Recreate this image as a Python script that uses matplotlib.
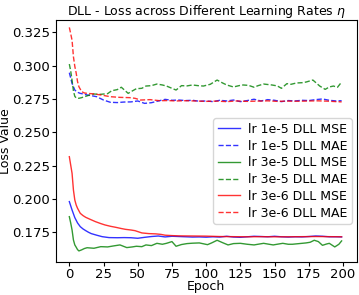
import matplotlib
matplotlib.use("Agg")
import matplotlib.pyplot as plt

ep_blue_mse = [0, 2, 4, 6, 8, 10, 12, 14, 16, 20, 24, 29, 35, 40, 45, 50, 55, 60, 65, 70, 75, 80, 85, 90,
               95, 100, 105, 110, 115, 120, 125, 130, 135, 140, 145, 150, 155, 160, 165, 170, 175, 180,
               185, 190, 195, 199]
blue_mse = [0.1980, 0.1917, 0.1860, 0.1820, 0.1792, 0.1775, 0.1762, 0.1750, 0.1740, 0.1728, 0.1717, 0.1710,
            0.1709, 0.1710, 0.1709, 0.1705, 0.1712, 0.1718, 0.1722, 0.1715, 0.1720, 0.1718, 0.1716, 0.1714,
            0.1715, 0.1713, 0.1716, 0.1714, 0.1720, 0.1714, 0.1712, 0.1716, 0.1720, 0.1718, 0.1716, 0.1720,
            0.1716, 0.1714, 0.1716, 0.1715, 0.1718, 0.1722, 0.1720, 0.1716, 0.1716, 0.1715]

ep_blue_mae = [0, 2, 4, 6, 8, 10, 13, 16, 20, 25, 30, 35, 40, 45, 50, 55, 60, 65, 70, 75, 80, 85, 90, 95,
               100, 105, 110, 115, 120, 125, 130, 135, 140, 145, 150, 155, 160, 165, 170, 175, 180, 185,
               190, 195, 199]
blue_mae = [0.2947, 0.2867, 0.2817, 0.2800, 0.2792, 0.2788, 0.2780, 0.2775, 0.2767, 0.2742, 0.2725, 0.2723,
            0.2727, 0.2728, 0.2735, 0.2717, 0.2722, 0.2735, 0.2747, 0.2740, 0.2742, 0.2738, 0.2740, 0.2733,
            0.2735, 0.2730, 0.2740, 0.2735, 0.2742, 0.2730, 0.2738, 0.2748, 0.2735, 0.2745, 0.2740, 0.2730,
            0.2738, 0.2735, 0.2740, 0.2738, 0.2745, 0.2750, 0.2740, 0.2735, 0.2737]

ep_green_mse = [0, 1, 2, 3, 4, 5, 6, 7, 9, 11, 13, 18, 23, 28, 32, 37, 42, 46, 49, 53, 56, 60, 64, 68, 71,
                75, 78, 82, 86, 90, 95, 101, 104, 108, 112, 116, 120, 125, 130, 135, 139, 142, 146, 149,
                153, 156, 160, 163, 168, 173, 176, 179, 182, 185, 188, 190, 194, 197, 199]
green_mse = [0.1867, 0.1820, 0.1767, 0.1692, 0.1655, 0.1638, 0.1620, 0.1610, 0.1618, 0.1628, 0.1634, 0.1630,
             0.1642, 0.1640, 0.1647, 0.1655, 0.1635, 0.1640, 0.1645, 0.1642, 0.1655, 0.1650, 0.1667, 0.1660,
             0.1667, 0.1680, 0.1645, 0.1658, 0.1665, 0.1668, 0.1670, 0.1657, 0.1670, 0.1690, 0.1672, 0.1655,
             0.1665, 0.1667, 0.1660, 0.1655, 0.1662, 0.1667, 0.1660, 0.1655, 0.1662, 0.1667, 0.1660, 0.1660,
             0.1665, 0.1670, 0.1675, 0.1690, 0.1680, 0.1652, 0.1662, 0.1667, 0.1640, 0.1660, 0.1685]

ep_green_mae = [0, 1, 2, 3, 4, 5, 7, 9, 12, 15, 18, 23, 28, 31, 35, 38, 43, 46, 49, 53, 56, 60, 64, 68, 71,
                75, 78, 82, 86, 90, 94, 98, 103, 108, 112, 115, 120, 124, 127, 131, 135, 138, 142, 148,
                152, 155, 159, 162, 166, 170, 173, 178, 183, 187, 190, 193, 196, 199]
green_mae = [0.3012, 0.2960, 0.2890, 0.2810, 0.2770, 0.2758, 0.2755, 0.2760, 0.2770, 0.2780, 0.2787, 0.2785,
             0.2790, 0.2812, 0.2820, 0.2838, 0.2792, 0.2810, 0.2827, 0.2830, 0.2847, 0.2850, 0.2862, 0.2855,
             0.2847, 0.2830, 0.2817, 0.2850, 0.2848, 0.2855, 0.2850, 0.2847, 0.2860, 0.2892, 0.2870, 0.2855,
             0.2840, 0.2850, 0.2855, 0.2852, 0.2838, 0.2850, 0.2862, 0.2855, 0.2848, 0.2830, 0.2865, 0.2860,
             0.2870, 0.2872, 0.2877, 0.2892, 0.2847, 0.2822, 0.2840, 0.2847, 0.2838, 0.2877]

ep_red_mse = [0, 2, 3, 4, 5, 6, 8, 10, 12, 15, 19, 23, 26, 30, 34, 38, 41, 45, 48, 53, 58, 63, 67, 70, 75,
              80, 90, 100, 110, 120, 130, 140, 150, 160, 170, 180, 190, 199]
red_mse = [0.2317, 0.2192, 0.2067, 0.1992, 0.1955, 0.1930, 0.1892, 0.1875, 0.1862, 0.1848, 0.1830, 0.1815,
           0.1805, 0.1795, 0.1787, 0.1778, 0.1772, 0.1767, 0.1762, 0.1745, 0.1740, 0.1738, 0.1734, 0.1728,
           0.1725, 0.1723, 0.1722, 0.1721, 0.1718, 0.1717, 0.1716, 0.1717, 0.1716, 0.1716, 0.1717, 0.1718,
           0.1717, 0.1716]

ep_red_mae = [0, 1, 2, 3, 4, 5, 6, 7, 9, 11, 13, 18, 23, 30, 37, 44, 48, 52, 59, 66, 72, 78, 85, 92, 100,
              108, 115, 122, 130, 138, 145, 152, 160, 168, 175, 182, 190, 195, 199]
red_mae = [0.3287, 0.3240, 0.3190, 0.3067, 0.2995, 0.2945, 0.2880, 0.2842, 0.2805, 0.2795, 0.2792, 0.2788,
           0.2780, 0.2767, 0.2762, 0.2760, 0.2755, 0.2742, 0.2745, 0.2737, 0.2738, 0.2735, 0.2737, 0.2735,
           0.2732, 0.2734, 0.2730, 0.2735, 0.2732, 0.2734, 0.2736, 0.2732, 0.2734, 0.2733, 0.2735, 0.2736,
           0.2733, 0.2730, 0.2728]

fig = plt.figure(figsize=(3.59, 2.95), dpi=100)
ax = fig.add_axes([0.155, 0.111, 0.8385, 0.821])

ax.plot(ep_blue_mse, blue_mse, color="blue", lw=1.0, alpha=0.8, label="lr 1e-5 DLL MSE")
ax.plot(ep_blue_mae, blue_mae, color="blue", lw=1.0, ls="--", alpha=0.8, label="lr 1e-5 DLL MAE")
ax.plot(ep_green_mse, green_mse, color="green", lw=1.0, alpha=0.8, label="lr 3e-5 DLL MSE")
ax.plot(ep_green_mae, green_mae, color="green", lw=1.0, ls="--", alpha=0.8, label="lr 3e-5 DLL MAE")
ax.plot(ep_red_mse, red_mse, color="red", lw=1.0, alpha=0.8, label="lr 3e-6 DLL MSE")
ax.plot(ep_red_mae, red_mae, color="red", lw=1.0, ls="--", alpha=0.8, label="lr 3e-6 DLL MAE")

ax.set_xlim(-10, 210)
ax.set_ylim(0.1525, 0.3342)
ax.set_xticks([0, 25, 50, 75, 100, 125, 150, 175, 200])
ax.set_yticks([0.175, 0.200, 0.225, 0.250, 0.275, 0.300, 0.325])
ax.tick_params(labelsize=9.5, pad=0.8, length=3)
ax.set_title(r"DLL - Loss across Different Learning Rates $\eta$", fontsize=9, pad=3)
ax.set_xlabel("Epoch", fontsize=9, labelpad=-0.5)
ax.set_ylabel("Loss Value", fontsize=9, labelpad=0)
ax.legend(loc="lower right", fontsize=9, bbox_to_anchor=(0.983, 0.158), borderaxespad=0,
          labelspacing=0.3, handlelength=1.8, handletextpad=0.6, borderpad=0.35)

fig.savefig("out.png", dpi=100)
